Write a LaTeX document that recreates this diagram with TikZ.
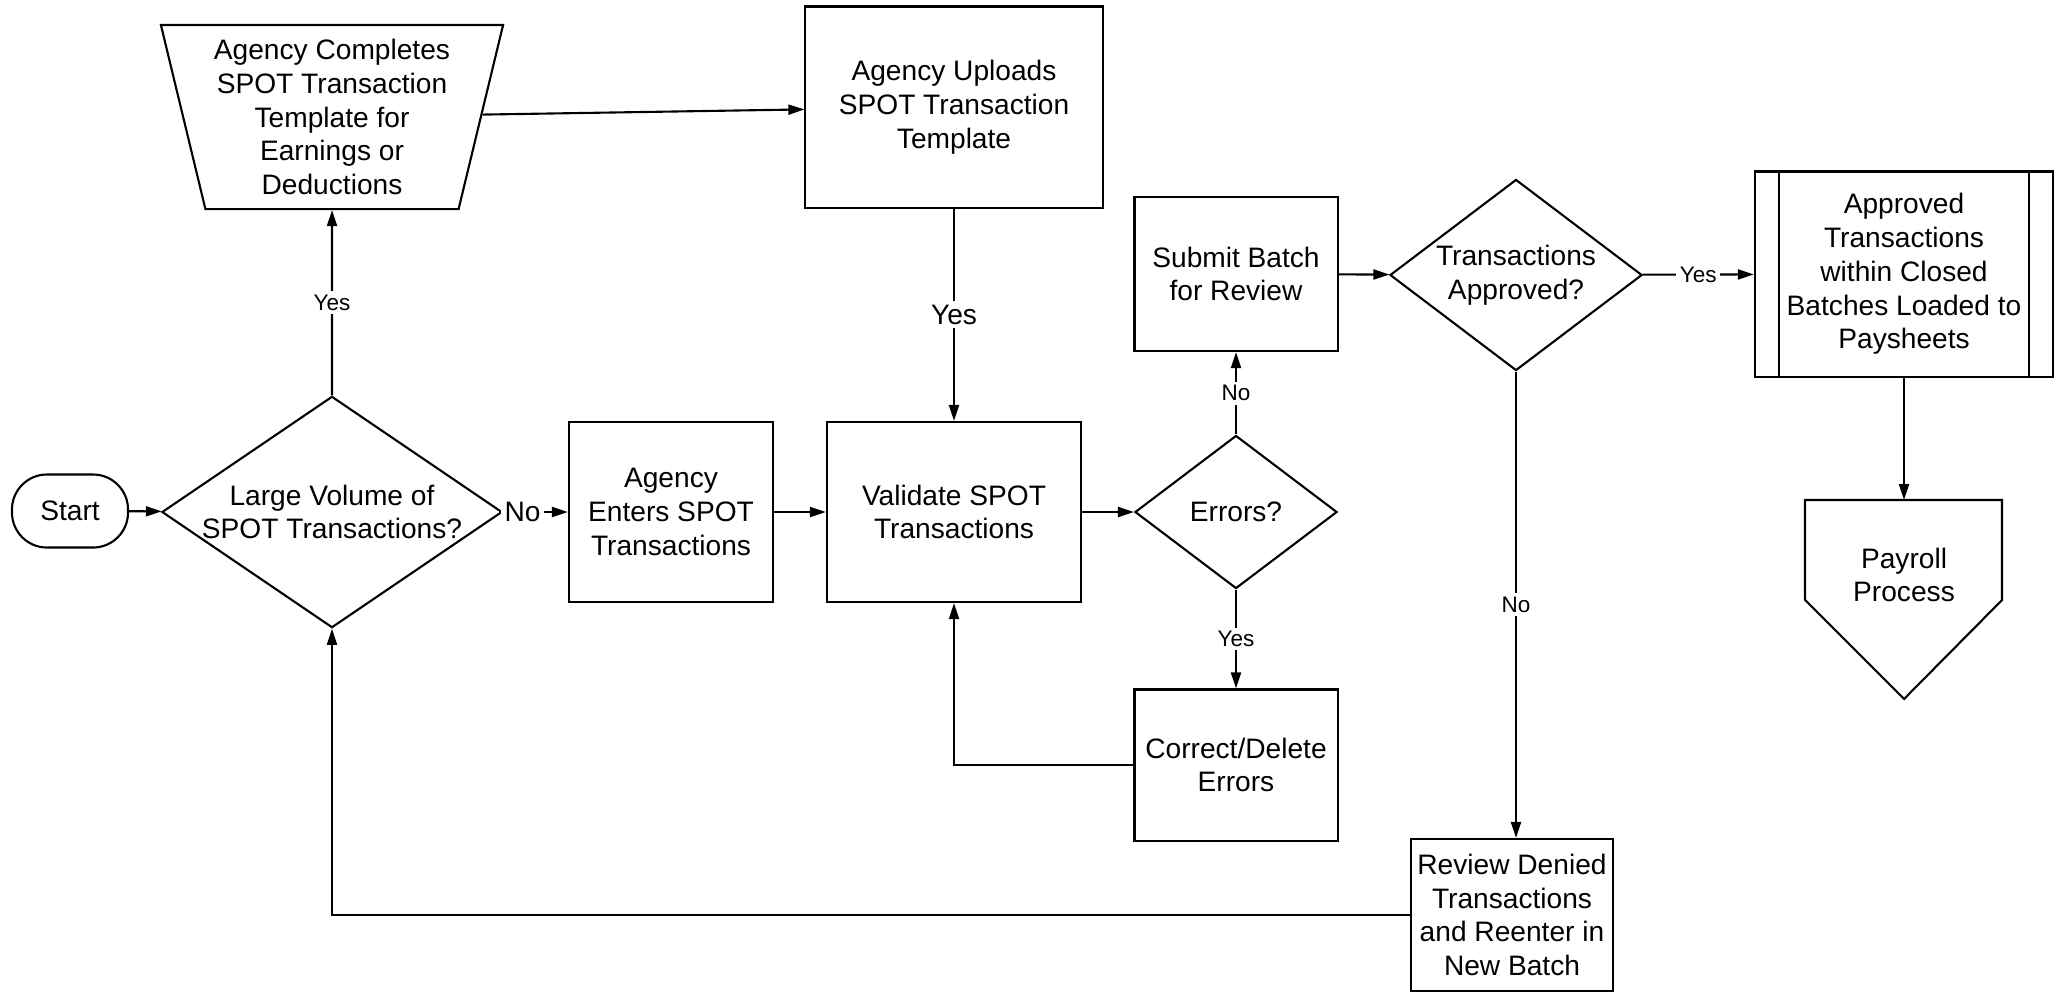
\documentclass[tikz,border=0pt]{standalone}
\usepackage{fontspec}
\setmainfont{Liberation Sans}
\usetikzlibrary{arrows.meta,shapes.geometric,calc}

\tikzset{
  proc/.style={draw, line width=0.6pt, align=center, inner sep=1pt},
  decis/.style={draw, diamond, line width=0.6pt, align=center, inner sep=0pt},
  lab/.style={fill=white, inner sep=1pt, font=\fontsize{6.4}{7.7}\selectfont},
  biglab/.style={fill=white, inner sep=1pt, font=\fontsize{8}{9.6}\selectfont},
  flow/.style={line width=0.6pt, -{Triangle[length=0.16cm,width=0.1cm]}},
  plain/.style={line width=0.6pt}
}

\begin{document}
\begin{tikzpicture}[x=0.01cm, y=-0.01cm, font=\fontsize{8}{9.6}\selectfont]
\useasboundingbox (0,0) rectangle (2058,993);

% left part
\node[proc, rounded corners=0.35cm, minimum width=1.16cm, minimum height=0.73cm] (start) at (70,511) {Start};
\node[decis, aspect=1.47, minimum width=3.4cm, minimum height=2.31cm] (large) at (332,512) {Large Volume of\\SPOT Transactions?};
\node[draw, line width=0.6pt, align=center, trapezium, shape border rotate=180, trapezium angle=74.7,
      trapezium stretches body, minimum width=3.42cm, minimum height=1.84cm, inner sep=1pt] (compl) at (332,117)
      {Agency Completes\\SPOT Transaction\\Template for\\Earnings or\\Deductions};
\node[proc, minimum width=2.97cm, minimum height=2.01cm] (upload) at (954,107) {Agency Uploads\\SPOT Transaction\\Template};
\node[proc, minimum width=2.04cm, minimum height=1.8cm] (enter) at (671,512) {Agency\\Enters SPOT\\Transactions};
\node[proc, minimum width=2.54cm, minimum height=1.8cm] (valid) at (954,512) {Validate SPOT\\Transactions};

% middle part
\node[decis, aspect=1.32, minimum width=2.02cm, minimum height=1.53cm] (err) at (1236,512) {Errors?};
\node[proc, minimum width=2.03cm, minimum height=1.54cm] (submit) at (1236,274) {Submit Batch\\for Review};
\node[proc, minimum width=2.03cm, minimum height=1.51cm] (corr) at (1236,765) {Correct/Delete\\Errors};
\node[decis, aspect=1.32, minimum width=2.52cm, minimum height=1.91cm] (appq) at (1516,275) {Transactions\\Approved?};
\node[proc, minimum width=2.02cm, minimum height=1.52cm] (review) at (1512,915) {Review Denied\\Transactions\\and Reenter in\\New Batch};

% right part
\node[proc, minimum width=2.98cm, minimum height=2.05cm] (appr) at (1904,274) {Approved\\Transactions\\within Closed\\Batches Loaded to\\Paysheets};
\draw[plain] ([xshift=0.25cm]appr.north west) -- ([xshift=0.25cm]appr.south west);
\draw[plain] ([xshift=-0.25cm]appr.north east) -- ([xshift=-0.25cm]appr.south east);
\coordinate (paytop) at (1904,500);
\node[align=center, inner sep=1pt] (pay) at (1904,575) {Payroll\\Process};
\draw[plain] (1805,500) -- (2002,500) -- (2002,600) -- (1904,699) -- (1805,600) -- cycle;

% connectors
\draw[flow] (start) -- (large);
\draw[flow] (large) -- node[biglab, pos=0.3] {No} (enter);
\draw[flow] (large) -- node[lab] {Yes} (compl);
\draw[flow] (compl) -- (upload);
\draw[flow] (upload) -- node[biglab] {Yes} (valid);
\draw[flow] (enter) -- (valid);
\draw[flow] (valid) -- (err);
\draw[flow] (err) -- node[lab] {No} (submit);
\draw[flow] (err) -- node[lab] {Yes} (corr);
\draw[flow] (corr.west) -| (valid.south);
\draw[flow] (submit) -- (appq);
\draw[flow] (appq) -- node[lab] {Yes} (appr);
\draw[flow] (appq.south) -- node[lab] {No} (appq.south |- review.north);
\draw[flow] (review.west) -| (large.south);
\draw[flow] (appr) -- (paytop);
\end{tikzpicture}
\end{document}
